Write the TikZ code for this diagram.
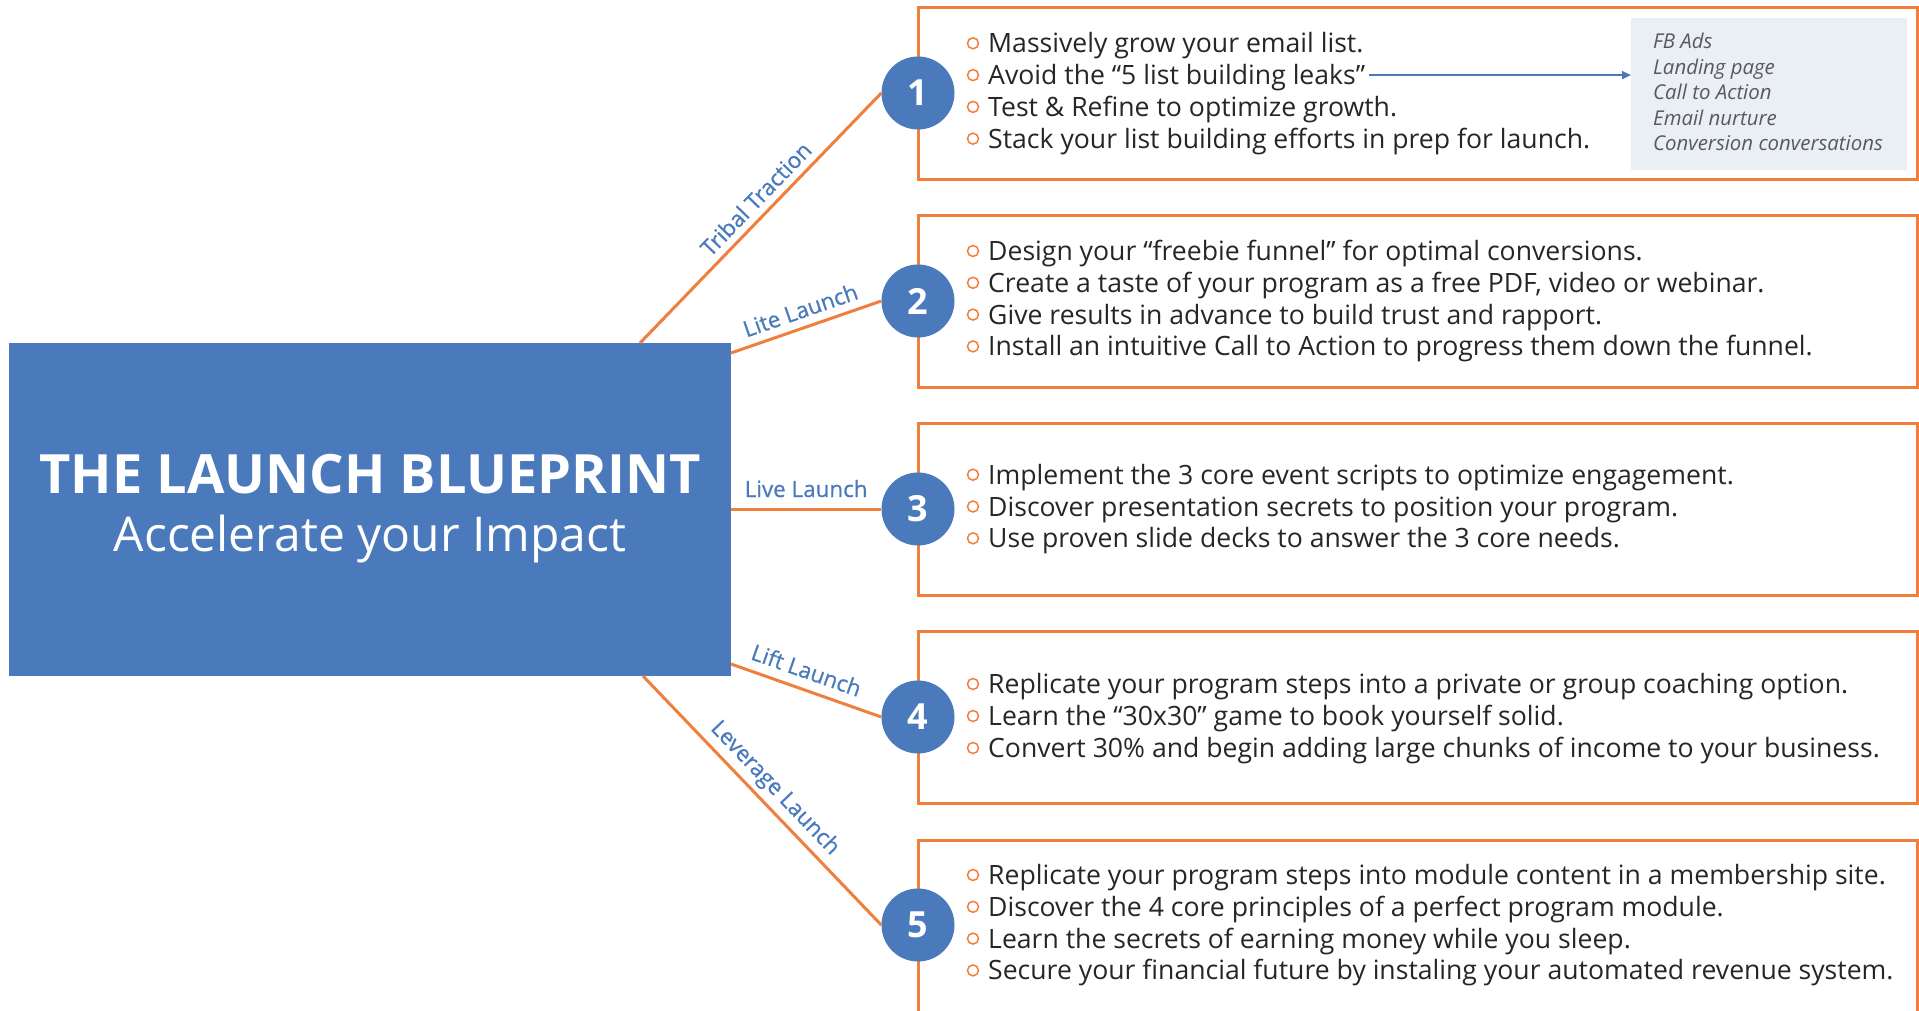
\documentclass[tikz,border=0pt]{standalone}
\usepackage{fontspec}
\setmainfont{Open Sans}
\newfontfamily\lbsemi{Open Sans}[FakeBold=0.7]
\usetikzlibrary{arrows.meta}
\definecolor{lbblue}{HTML}{4A7ABC}
\definecolor{lborange}{HTML}{F07E3C}
\definecolor{lbtext}{HTML}{262626}
\definecolor{lbpanel}{HTML}{EAEEF5}
\definecolor{lbgray}{HTML}{595959}
\newcommand\lbitem[3]{%
  \node[bul] (#1b) at (973,#2) {};
  \node[item] (#1) at (988,#2) {#3};}
\newcommand\lbpan[3]{%
  \node[panitem] (#1) at (1653,#2) {#3};}
\begin{document}
\begin{tikzpicture}[x=1pt,y=-1pt,
  box/.style={draw=lborange,line width=3pt},
  num/.style={circle,fill=lbblue,minimum size=73pt,inner sep=0pt,text=white,
    font=\fontsize{36}{36}\selectfont\bfseries},
  conn/.style={draw=lborange,line width=3pt},
  lab/.style={sloped,above,font=\fontsize{22.4}{22.4}\lbsemi,text=lbblue,
    text height=16pt,text depth=0pt},
  bul/.style={circle,draw=lborange,line width=1.5pt,minimum size=11pt,inner sep=0pt},
  item/.style={anchor=west,inner sep=0pt,text height=19pt,text depth=0pt,text=lbtext,
    font=\fontsize{26.6}{26.6}\selectfont},
  panitem/.style={anchor=west,inner sep=0pt,text height=14.5pt,text depth=0pt,text=lbgray,
    font=\fontsize{20.4}{20.4}\selectfont\itshape},
  lbarrow/.style={draw=lbblue,line width=1.8pt,-{Triangle[length=9pt,width=8pt]}}
]
\useasboundingbox (0,0) rectangle (1919,1011);
\clip (0,0) rectangle (1919,1011);

% boxes
\draw[box] (918,7.7) rectangle (1917,180);
\draw[box] (918,215.7) rectangle (1917,387.7);
\draw[box] (918,423.5) rectangle (1917,595.5);
\draw[box] (918,631.7) rectangle (1917,803.7);
\draw[box] (918,840) rectangle (1917,1030);

% panel
\node[fill=lbpanel,anchor=north west,minimum width=276pt,minimum height=151.7pt,inner sep=0pt] (panel) at (1631,18.3) {};
\lbpan{p1}{41.5}{FB Ads}
\lbpan{p2}{67}{Landing page}
\lbpan{p3}{92.5}{Call to Action}
\lbpan{p4}{118}{Email nurture}
\lbpan{p5}{143.5}{Conversion conversations}

% central block
\node[fill=lbblue,anchor=north west,minimum width=722.4pt,minimum height=333pt,inner sep=0pt] (center) at (8.6,343) {};
\node[inner sep=0pt,text height=38.7pt,text depth=0pt,text=white,font=\fontsize{54.2}{54.2}\selectfont\bfseries] (title) at (370,474) {THE LAUNCH BLUEPRINT};
\node[inner sep=0pt,text height=34.3pt,text depth=0pt,text=white,font=\fontsize{48}{48}\selectfont] (subtitle) at (370,534) {Accelerate your Impact};

% connector endpoints on the central block
\coordinate (s1) at (640,343);
\coordinate (s2) at (731,353);
\coordinate (s3) at (731,509);
\coordinate (s4) at (731,664);
\coordinate (s5) at (643,676);

% circles
\node[num] (c1) at (918,93) {1};
\node[num] (c2) at (918,301) {2};
\node[num] (c3) at (918,509) {3};
\node[num] (c4) at (918,717) {4};
\node[num] (c5) at (918,925) {5};

% connectors
\draw[conn] (s1) -- node[lab,pos=0.53,inner sep=7pt] (l1) {Tribal Traction} (c1.west);
\draw[conn] (s2) -- node[lab,pos=0.5,inner sep=8pt] (l2) {Lite Launch} (c2.west);
\draw[conn] (s3) -- node[lab,pos=0.5,inner sep=10.5pt] (l3) {Live Launch} (c3.west);
\draw[conn] (s4) -- node[lab,pos=0.46,inner sep=9.5pt] (l4) {Lift Launch} (c4.west);
\draw[conn] (s5) -- node[lab,pos=0.5,inner sep=10pt] (l5) {Leverage Launch} (c5.west);

% box 1
\lbitem{a1}{43.3}{Massively grow your email list.}
\lbitem{a2}{75.1}{Avoid the “5 list building leaks”}
\lbitem{a3}{106.9}{Test \& Refine to optimize growth.}
\lbitem{a4}{138.7}{Stack your list building efforts in prep for launch.}
\draw[lbarrow] ([xshift=4pt]a2.east) -- (a2.east -| panel.west);

% box 2
\lbitem{b1}{251}{Design your “freebie funnel” for optimal conversions.}
\lbitem{b2}{282.8}{Create a taste of your program as a free PDF, video or webinar.}
\lbitem{b3}{314.6}{Give results in advance to build trust and rapport.}
\lbitem{b4}{346.4}{Install an intuitive Call to Action to progress them down the funnel.}

% box 3
\lbitem{d1}{474.7}{Implement the 3 core event scripts to optimize engagement.}
\lbitem{d2}{506.5}{Discover presentation secrets to position your program.}
\lbitem{d3}{538.3}{Use proven slide decks to answer the 3 core needs.}

% box 4
\lbitem{e1}{684}{Replicate your program steps into a private or group coaching option.}
\lbitem{e2}{716}{Learn the “30x30” game to book yourself solid.}
\lbitem{e3}{748}{Convert 30\% and begin adding large chunks of income to your business.}

% box 5
\lbitem{f1}{875}{Replicate your program steps into module content in a membership site.}
\lbitem{f2}{906.8}{Discover the 4 core principles of a perfect program module.}
\lbitem{f3}{938.6}{Learn the secrets of earning money while you sleep.}
\lbitem{f4}{970.4}{Secure your financial future by instaling your automated revenue system.}
\end{tikzpicture}
\end{document}
